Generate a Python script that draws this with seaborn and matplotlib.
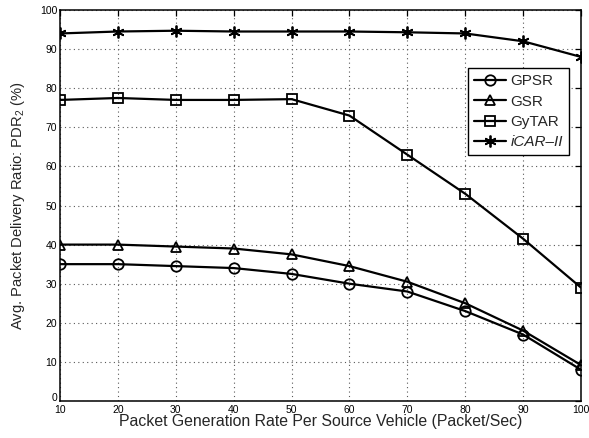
import matplotlib
matplotlib.use("Agg")
import matplotlib.pyplot as plt
import matplotlib.transforms as mtransforms
import seaborn as sns
import pandas as pd

rates = [10, 20, 30, 40, 50, 60, 70, 80, 90, 100]
gpsr = [35, 35, 34.5, 34, 32.5, 30, 28, 23, 17, 8]
gsr = [40, 40, 39.5, 39, 37.5, 34.5, 30.5, 25, 18, 9.2]
gytar = [77, 77.5, 77, 77, 77.2, 73, 63, 53, 41.5, 29]
icar = [94, 94.5, 94.7, 94.5, 94.5, 94.5, 94.3, 94, 92, 88]

series_names = ["GPSR", "GSR", "GyTAR", "iCAR\u2013II"]
series_values = [gpsr, gsr, gytar, icar]
markers = ["o", "^", "s", (6, 2, 0)]

sns.set_theme(style="white")
plt.rcParams["font.family"] = ["Liberation Sans", "DejaVu Sans"]
plt.rcParams["mathtext.fontset"] = "custom"
plt.rcParams["mathtext.rm"] = "Liberation Sans"
plt.rcParams["mathtext.it"] = "Liberation Sans:italic"

fig = plt.figure(figsize=(5.89, 4.38), dpi=100)
ax = fig.add_axes([60 / 589, 1 - 401 / 438, 521 / 589, 391 / 438])

for name, vals, mk in zip(series_names, series_values, markers):
    df = pd.DataFrame({"x": rates, "y": vals})
    sns.lineplot(data=df, x="x", y="y", ax=ax, color="black", linewidth=1.6,
                 marker=mk, markersize=7.5 if mk != (6, 2, 0) else 8.5,
                 markerfacecolor="none" if mk != (6, 2, 0) else "black",
                 markeredgecolor="black", markeredgewidth=1.3, label=name)

ax.set_xlim(10, 100)
ax.set_ylim(0, 100)
ax.set_xticks(rates)
ax.set_yticks(range(0, 101, 10))
ax.tick_params(direction="in", length=4, width=0.9, top=True, right=True,
               labelsize=7.5, colors="black")
ax.tick_params(axis="x", pad=3)
ax.tick_params(axis="y", pad=2)
for s in ax.spines.values():
    s.set_linewidth(1.1)
    s.set_color("black")
ax.grid(True, linestyle=(0, (1, 3)), color="0.35", linewidth=0.8)

fig.canvas.draw()
ylabels = ax.get_yticklabels()
ylabels[0].set_transform(ylabels[0].get_transform() +
                         mtransforms.ScaledTranslation(0, 3 / 72, fig.dpi_scale_trans))

ax.set_xlabel("Packet Generation Rate Per Source Vehicle (Packet/Sec)", fontsize=11.4, labelpad=-1)
ax.set_ylabel("Avg. Packet Delivery Ratio: PDR$_2$ (%)", fontsize=10.6, labelpad=9)

leg = ax.legend(loc="upper right", bbox_to_anchor=(569 / 589, 1 - 68 / 438),
                bbox_transform=fig.transFigure, fontsize=11, frameon=True,
                fancybox=False, edgecolor="black", framealpha=1,
                handlelength=2.1, handletextpad=0.3, borderpad=0.4,
                labelspacing=0.42, borderaxespad=0)
leg.get_frame().set_linewidth(1.0)
for t in leg.get_texts():
    if t.get_text().startswith("iCAR"):
        t.set_fontstyle("italic")

fig.savefig("out.png", dpi=100)
